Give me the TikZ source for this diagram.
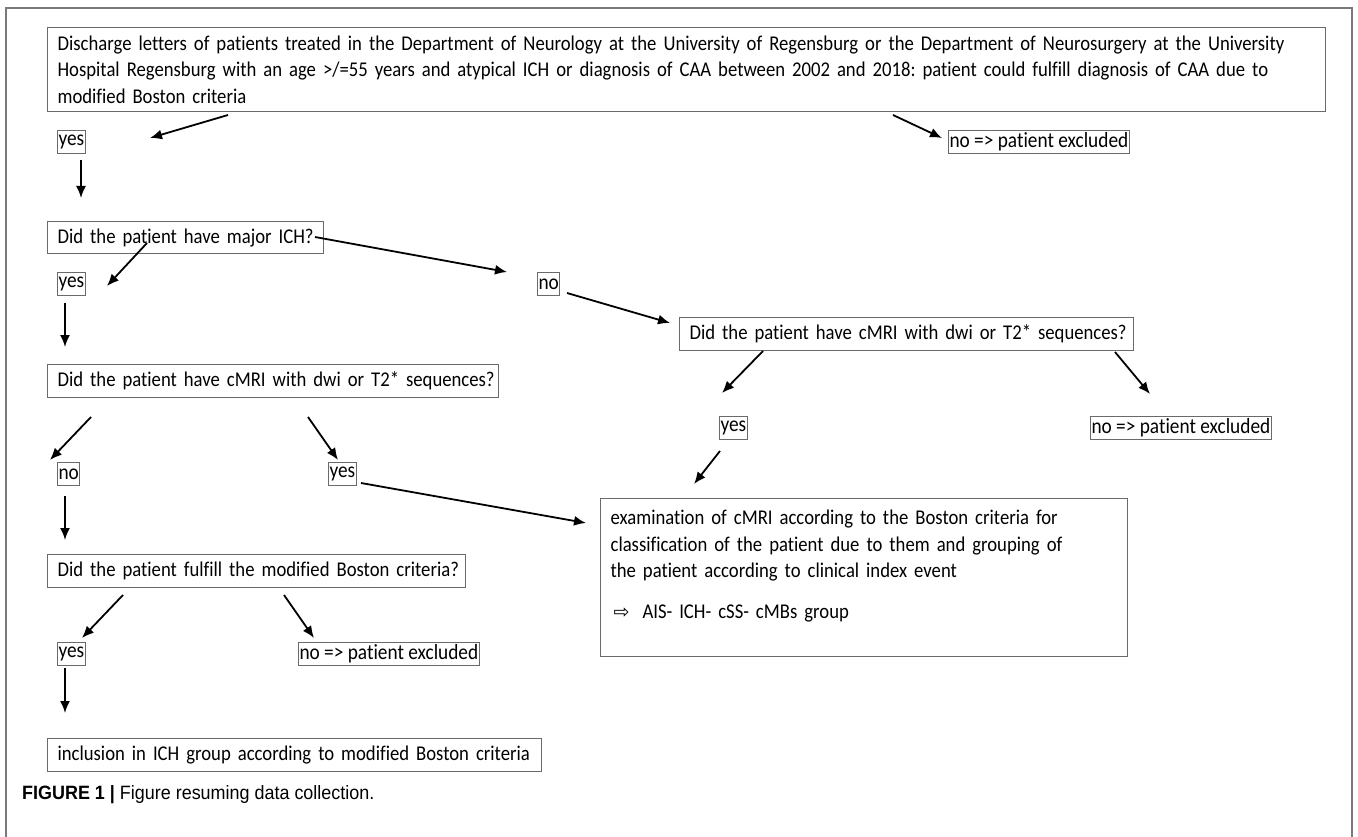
\documentclass[tikz,border=0pt]{standalone}
\usepackage{fontspec}
\setmainfont{Carlito}[Ligatures={NoCommon},FakeStretch=0.89]
\newfontfamily\capfont{Liberation Sans}[FakeStretch=0.93]
\newfontfamily\symfont{DejaVu Sans}
\usetikzlibrary{arrows.meta}
\definecolor{boxgray}{HTML}{6A6A6A}
\definecolor{framegray}{HTML}{7A7A7A}
\frenchspacing
\begin{document}
\begin{tikzpicture}[x=1pt,y=-1pt,
  bx/.style={draw=boxgray, line width=1.2pt, rectangle, anchor=north west, inner xsep=10pt, inner ysep=0pt, font=\fontsize{21}{26.5}\selectfont, align=left},
  lb/.style={draw=boxgray, line width=1.1pt, rectangle, anchor=north west, inner xsep=1pt, inner ysep=0pt, minimum height=23pt, font=\fontsize{21.7}{23}\selectfont},
  arr/.style={-{Latex[length=12pt,width=10pt]}, line width=1.8pt, black}]
\useasboundingbox (0,0) rectangle (1358,837);
\draw[framegray, line width=1.5pt] (6,837) -- (6,8) -- (1352,8) -- (1352,837);

% boxes
\node[bx, text width=1258pt, minimum height=84pt] (top) at (47,27)
 {\mbox{Discharge letters of patients treated in the Department of Neurology at the University of Regensburg or the Department of Neurosurgery at the University}\\
  \mbox{Hospital Regensburg with an age >/=55 years and atypical ICH or diagnosis of CAA between 2002 and 2018: patient could fulfill diagnosis of CAA due to}\\
  \mbox{modified Boston criteria}};
\node[lb] (yes1) at (57,130) {yes};
\node[lb] (no1) at (948,130) {no => patient excluded};

\node[bx, text width=256pt, minimum height=32pt] (ich) at (47,221) {\mbox{Did the patient have major ICH?}};
\node[lb] (yes2) at (57,272) {yes};
\node[lb] (no2) at (537,272) {no};

\node[bx, text width=431pt, minimum height=33pt] (mriL) at (47,364) {\mbox{Did the patient have cMRI with dwi or T2* sequences?}};
\node[bx, text width=434pt, minimum height=33pt] (mriR) at (679,317) {\mbox{Did the patient have cMRI with dwi or T2* sequences?}};

\node[lb] (noB) at (57,462) {no};
\node[lb] (yesB) at (328,462) {yes};
\node[lb] (yesR) at (719,416) {yes};
\node[lb] (noR) at (1090,416) {no => patient excluded};

\node[bx, text width=507pt, minimum height=158pt] (exam) at (600,498)
 {\mbox{examination of cMRI according to the Boston criteria for}\\
  \mbox{classification of the patient due to them and grouping of}\\
  \mbox{the patient according to clinical index event}\\[14pt]
  \mbox{\hspace{3pt}{\symfont\fontsize{19}{19}\selectfont ⇨}\hspace{13pt}AIS- ICH- cSS- cMBs group}\\
  \mbox{}};

\node[bx, text width=398pt, minimum height=33pt] (bost) at (47,554) {\mbox{Did the patient fulfill the modified Boston criteria?}};
\node[lb] (yes3) at (57,642) {yes};
\node[lb] (noC) at (298,642) {no => patient excluded};
\node[bx, text width=474pt, minimum height=33pt] (incl) at (47,738) {\mbox{inclusion in ICH group according to modified Boston criteria}};

\node[anchor=base west, inner sep=0pt, font=\capfont\fontsize{19.3}{22}\selectfont] (cap) at (22,799)
 {\textbf{FIGURE 1 |} Figure resuming data collection.};

% arrow end points
\coordinate (a1s) at (228,115); \coordinate (a1e) at (150,138);
\coordinate (a2s) at (893,115); \coordinate (a2e) at (942,138);
\coordinate (a3s) at (81,160);  \coordinate (a3e) at (81,198);
\coordinate (a4s) at (147,243); \coordinate (a4e) at (107,286);
\coordinate (a5s) at (315,237); \coordinate (a5e) at (507,272);
\coordinate (a6s) at (567,293); \coordinate (a6e) at (670,323);
\coordinate (a7s) at (65,303);  \coordinate (a7e) at (65,347);
\coordinate (a8s) at (91,417);  \coordinate (a8e) at (50,460);
\coordinate (a9s) at (308,417); \coordinate (a9e) at (338,460);
\coordinate (a10s) at (361,483); \coordinate (a10e) at (586,523);
\coordinate (a11s) at (65,496); \coordinate (a11e) at (65,540);
\coordinate (a12s) at (123,595); \coordinate (a12e) at (82,638);
\coordinate (a13s) at (284,595); \coordinate (a13e) at (314,638);
\coordinate (a14s) at (65,668); \coordinate (a14e) at (65,713);
\coordinate (a15s) at (763,351); \coordinate (a15e) at (722,393);
\coordinate (a16s) at (1115,352); \coordinate (a16e) at (1150,394);
\coordinate (a17s) at (720,451); \coordinate (a17e) at (694,484);

\foreach \i in {1,...,17} \draw[arr] (a\i s) -- (a\i e);
\end{tikzpicture}
\end{document}
